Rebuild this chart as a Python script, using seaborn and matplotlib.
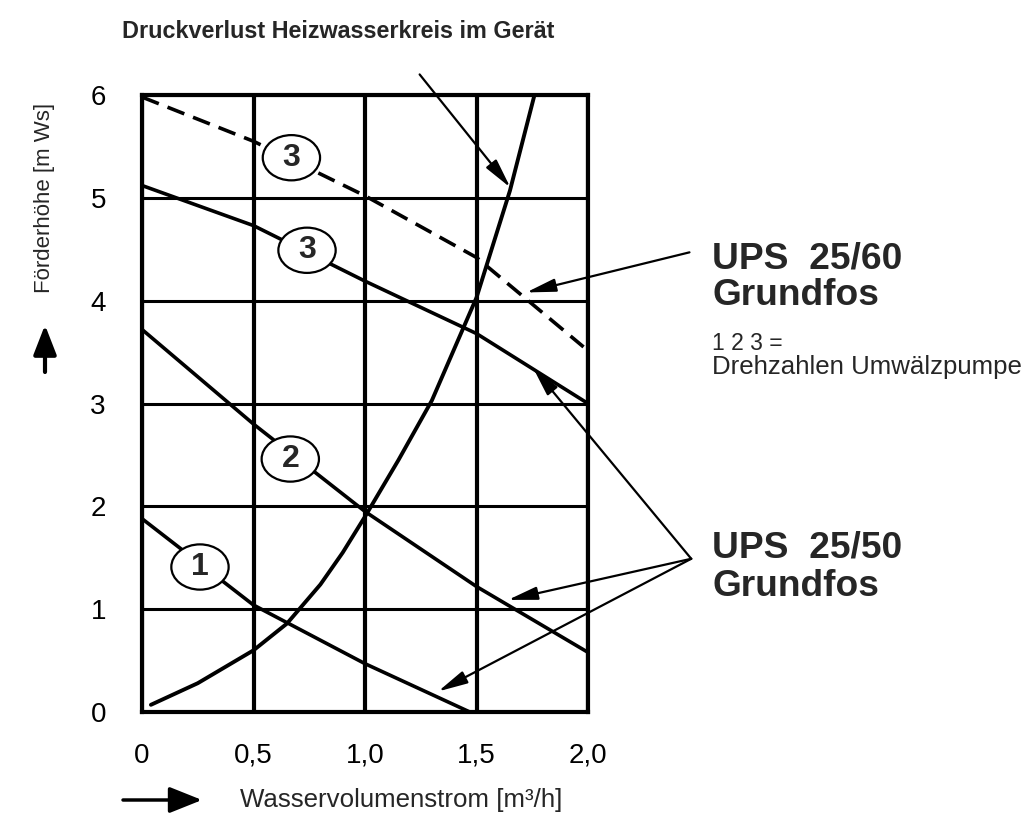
import matplotlib
matplotlib.use("Agg")
import matplotlib.pyplot as plt
from matplotlib.patches import Ellipse
import seaborn as sns

# pump curves (flow in m3/h, head in m Ws)
flow = [0.0, 0.5, 1.0, 1.5, 2.0]
flow_60 = [0.0, 0.5, 1.0, 1.5, 1.98]
ups60_speed3 = [5.98, 5.55, 5.02, 4.42, 3.55]
ups50_speed3 = [5.12, 4.73, 4.19, 3.68, 3.0]
ups50_speed2 = [3.72, 2.8, 1.95, 1.22, 0.58]
flow_speed1 = [0.0, 0.5, 1.0, 1.47]
ups50_speed1 = [1.88, 1.04, 0.47, 0.0]

# pressure loss of the heating water circuit
loss_flow = [0.04, 0.25, 0.5, 0.65, 0.8, 0.9, 1.0, 1.15, 1.3, 1.5, 1.65, 1.76]
loss_head = [0.07, 0.28, 0.6, 0.86, 1.24, 1.55, 1.9, 2.45, 3.03, 4.03, 5.07, 6.0]

x_ticks = [0.0, 0.5, 1.0, 1.5, 2.0]
x_labels = ["0", "0,5", "1,0", "1,5", "2,0"]
y_ticks = [0, 1, 2, 3, 4, 5, 6]

# circled speed labels: (text, flow, head)
speed_marks = [("3", 0.67, 5.39), ("3", 0.74, 4.49), ("2", 0.665, 2.46), ("1", 0.26, 1.41)]

sns.set_style("white")
plt.rcParams["font.family"] = ["Liberation Sans", "DejaVu Sans"]

fig = plt.figure(figsize=(10.28, 8.24), dpi=100)
W, H = 1028, 824
ax = fig.add_axes([142 / W, 112 / H, 446 / W, 617 / H])

sns.lineplot(x=loss_flow, y=loss_head, ax=ax, color="black", lw=2.8, sort=False)
sns.lineplot(x=flow_60, y=ups60_speed3, ax=ax, color="black", lw=2.6,
             linestyle=(0, (5, 2.6)))
sns.lineplot(x=flow, y=ups50_speed3, ax=ax, color="black", lw=2.6)
sns.lineplot(x=flow, y=ups50_speed2, ax=ax, color="black", lw=2.6)
sns.lineplot(x=flow_speed1, y=ups50_speed1, ax=ax, color="black", lw=2.6)

for txt, fx, fy in speed_marks:
    ax.add_patch(Ellipse((fx, fy), 0.257, 0.44, facecolor="white",
                         edgecolor="black", lw=1.6, zorder=5))
    ax.text(fx, fy, txt, ha="center", va="center", fontsize=23,
            fontweight="bold", zorder=6)

ax.set_xlim(0, 2)
ax.set_ylim(0, 6)
ax.set_xticks(x_ticks)
ax.set_xticklabels(x_labels)
ax.set_yticks(y_ticks)
ax.xaxis.grid(True, color="black", lw=3)
ax.yaxis.grid(True, color="black", lw=2.2)
ax.set_axisbelow(True)
for sp in ax.spines.values():
    sp.set_color("black")
    sp.set_linewidth(3)
ax.tick_params(axis="y", length=19, width=2.2, pad=7, labelsize=20, colors="black")
ax.tick_params(axis="x", length=17, width=3, pad=5, labelsize=20, colors="black")

# pointer arrows
arrow_kw = dict(arrowstyle="-|>,head_length=0.9,head_width=0.2", lw=1.6,
                color="black", mutation_scale=20, shrinkA=0, shrinkB=0)
ax.annotate("", xy=(1.652, 5.1), xytext=(1.245, 6.2), arrowprops=arrow_kw,
            annotation_clip=False)
ax.annotate("", xy=(1.723, 4.08), xytext=(2.455, 4.47), arrowprops=arrow_kw,
            annotation_clip=False)
for tx, ty in [(1.753, 3.35), (1.641, 1.09), (1.328, 0.2)]:
    ax.annotate("", xy=(tx, ty), xytext=(2.463, 1.49), arrowprops=arrow_kw,
                annotation_clip=False)

# texts
fig.text(122 / W, 1 - 38 / H, "Druckverlust Heizwasserkreis im Gerät",
         fontsize=16.8, fontweight="bold", va="baseline")
fig.text(712 / W, 1 - 268 / H, "UPS  25/60", fontsize=26.7, fontweight="bold", va="baseline")
fig.text(712 / W, 1 - 305 / H, "Grundfos", fontsize=26.7, fontweight="bold", va="baseline")
fig.text(712 / W, 1 - 350 / H, "1 2 3 =", fontsize=16.5, va="baseline")
fig.text(712 / W, 1 - 374 / H, "Drehzahlen Umwälzpumpe", fontsize=18.6, va="baseline")
fig.text(712 / W, 1 - 557 / H, "UPS  25/50", fontsize=26.7, fontweight="bold", va="baseline")
fig.text(712 / W, 1 - 596 / H, "Grundfos", fontsize=26.7, fontweight="bold", va="baseline")

fig.text(240 / W, 1 - 800 / H, "Wasservolumenstrom [m³/h]", fontsize=18.6, va="center")
ax.annotate("", xy=(202 / W, 1 - 800 / H), xytext=(123 / W, 1 - 800 / H),
            xycoords="figure fraction", textcoords="figure fraction",
            arrowprops=dict(arrowstyle="-|>,head_length=1.0,head_width=0.4",
                            lw=2.5, color="black", mutation_scale=20,
                            shrinkA=0, shrinkB=0))
fig.text(45 / W, 1 - 198 / H, "Förderhöhe [m Ws]", fontsize=16, rotation=90,
         ha="center", va="center")
ax.annotate("", xy=(45 / W, 1 - 325 / H), xytext=(45 / W, 1 - 372 / H),
            xycoords="figure fraction", textcoords="figure fraction",
            arrowprops=dict(arrowstyle="-|>,head_length=0.9,head_width=0.35",
                            lw=3, color="black", mutation_scale=20,
                            shrinkA=0, shrinkB=0))

fig.savefig("out.png", dpi=100)
